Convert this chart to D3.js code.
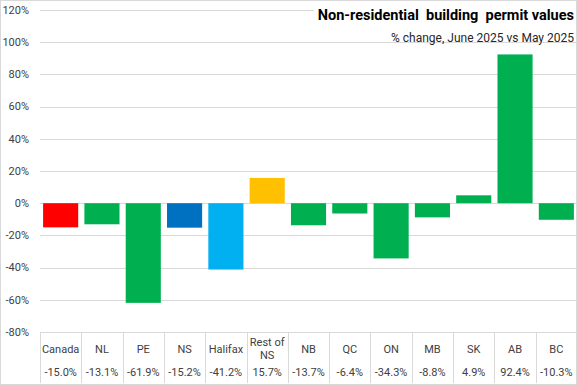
<!DOCTYPE html>
<html><head><meta charset="utf-8">
<script src="https://cdn.jsdelivr.net/npm/d3@7"></script>
<style>body{margin:0;background:#fff}svg{display:block;font-family:Roboto,"Open Sans",sans-serif}</style>
</head><body><svg id="c" width="577" height="385"></svg>
<script>
const categories = ["Canada","NL","PE","NS","Halifax","Rest of NS","NB","QC","ON","MB","SK","AB","BC"];
const values = [-15.0,-13.1,-61.9,-15.2,-41.2,15.7,-13.7,-6.4,-34.3,-8.8,4.9,92.4,-10.3];
const valueLabels = ["-15.0%","-13.1%","-61.9%","-15.2%","-41.2%","15.7%","-13.7%","-6.4%","-34.3%","-8.8%","4.9%","92.4%","-10.3%"];
const barColors = ["#FF0000","#00B050","#00B050","#0070C0","#00B0F0","#FFC000","#00B050","#00B050","#00B050","#00B050","#00B050","#00B050","#00B050"];
const yTicks = [-80,-60,-40,-20,0,20,40,60,80,100,120];
const title = "Non-residential  building  permit values";
const subtitle = "% change, June 2025 vs May 2025";

(function(){
const svg = d3.select("#c");
const W = 577, H = 385;
const pL = 40, pR = 577, pT = 10, pB = 332, tableBottom = 383;
const x = d3.scaleBand().domain(categories).range([pL, pR]).paddingInner(0.15).paddingOuter(0.075);
const xb = d3.scaleBand().domain(categories).range([pL, pR]).padding(0);
const y = d3.scaleLinear().domain([-80,120]).range([pB, pT]);

svg.append("rect").attr("x",0.5).attr("y",0.5).attr("width",W-1).attr("height",H-1).attr("fill","#fff").attr("stroke","#d9d9d9");

svg.append("g").selectAll("line").data(yTicks).join("line")
  .attr("x1",pL).attr("x2",pR).attr("y1",d=>Math.round(y(d))+0.5).attr("y2",d=>Math.round(y(d))+0.5)
  .attr("stroke","#d9d9d9").attr("stroke-width",1);

svg.append("g").selectAll("text").data(yTicks).join("text")
  .attr("x",29).attr("y",d=>y(d)).attr("dy","0.35em").attr("text-anchor","end")
  .attr("font-size",11).attr("fill","#404040").text(d=>d+"%");

svg.append("g").selectAll("rect").data(values).join("rect")
  .attr("x",(d,i)=>x(categories[i])).attr("width",x.bandwidth())
  .attr("y",d=>y(Math.max(0,d))).attr("height",d=>Math.abs(y(d)-y(0)))
  .attr("fill",(d,i)=>barColors[i]);

svg.append("g").selectAll("line").data(categories).join("line")
  .attr("x1",d=>Math.round(xb(d))+0.5).attr("x2",d=>Math.round(xb(d))+0.5)
  .attr("y1",pB).attr("y2",tableBottom).attr("stroke","#d9d9d9");

const cl = svg.append("g").selectAll("text").data(categories).join("text")
  .attr("text-anchor","middle").attr("font-size",11).attr("fill","#404040");
cl.each(function(d){
  const t = d3.select(this); const cx = xb(d)+xb.bandwidth()/2;
  if (d === "Rest of NS") {
    t.append("tspan").attr("x",cx).attr("y",346).text("Rest of");
    t.append("tspan").attr("x",cx).attr("y",359).text("NS");
  } else {
    t.attr("x",cx).attr("y",353).text(d);
  }
});
svg.append("g").selectAll("text").data(valueLabels).join("text")
  .attr("x",(d,i)=>xb(categories[i])+xb.bandwidth()/2).attr("y",376)
  .attr("text-anchor","middle").attr("font-size",11).attr("fill","#404040").text(d=>d);

const tg = svg.append("g");
const tt = tg.append("text").attr("x",574).attr("y",20).attr("text-anchor","end")
  .attr("font-size",14.5).attr("font-weight","bold").attr("fill","#000").attr("xml:space","preserve").text(title);
const bb = tt.node().getBBox();
tg.insert("rect","text").attr("x",bb.x-4).attr("y",2).attr("width",bb.width+6).attr("height",bb.height+2).attr("fill","#fff");
svg.append("text").attr("x",574).attr("y",42).attr("text-anchor","end")
  .attr("font-size",12).attr("fill","#262626").text(subtitle);
})();
</script></body></html>
